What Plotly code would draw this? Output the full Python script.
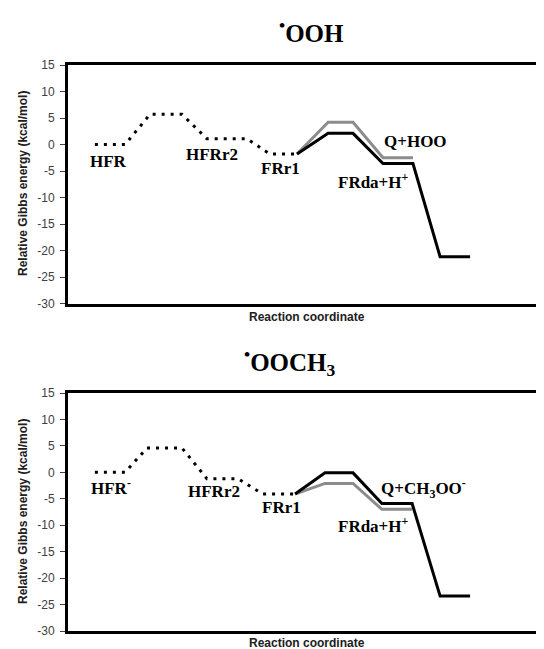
import plotly.graph_objects as go

# ---------------- data ----------------
# top panel (•OOH)
top_dot_x = [0.96, 2.04, 2.93, 4.07, 4.96, 6.39, 7.21, 8.18]
top_dot_y = [0, 0, 5.7, 5.7, 1.1, 1.1, -1.8, -1.8]
top_black_x = [8.18, 9.29, 10.18, 11.25, 12.32, 13.29, 14.36]
top_black_y = [-1.8, 2.1, 2.1, -3.6, -3.6, -21.2, -21.2]
top_gray_x = [8.18, 9.29, 10.18, 11.25, 12.32]
top_gray_y = [-1.8, 4.2, 4.2, -2.5, -2.5]

top_labels = ["HFR", "HFRr2", "FRr1", "FRda+H<sup>+</sup>", "Q+HOO"]
top_label_x = [1.43, 5.16, 7.6, 10.9, 12.4]
top_label_y = [-3.3, -1.9, -4.5, -6.8, 0.5]

# bottom panel (•OOCH3)
bot_dot_x = [0.96, 2.04, 2.82, 4.07, 4.96, 6.07, 6.96, 8.11]
bot_dot_y = [0, 0, 4.6, 4.6, -1.2, -1.2, -4.1, -4.1]
bot_black_x = [8.11, 9.18, 10.18, 11.21, 12.29, 13.29, 14.36]
bot_black_y = [-4.1, -0.1, -0.1, -5.9, -5.9, -23.4, -23.4]
bot_gray_x = [8.11, 9.18, 10.18, 11.21, 12.29]
bot_gray_y = [-4.1, -2.1, -2.1, -7.0, -7.0]

bot_labels = ["HFR<sup>-</sup>", "HFRr2", "FRr1", "FRda+H<sup>+</sup>", "Q+CH<sub>3</sub>OO<sup>-</sup>"]
bot_label_x = [1.55, 5.2, 7.64, 10.9, 12.7]
bot_label_y = [-2.8, -3.7, -6.7, -9.9, -3.15]

titles = ["<sup>•</sup>OOH", "<sup>•</sup>OOCH<sub>3</sub>"]
y_title = "Relative Gibbs energy (kcal/mol)"
x_title = "Reaction coordinate"
y_ticks = [15, 10, 5, 0, -5, -10, -15, -20, -25, -30]

W, H = 544, 649
OFF = 8  # page body margin
GRAY = "#8c8c8c"
SERIF = "Liberation Serif, Times New Roman, serif"
SANS = "Liberation Sans, Arial, sans-serif"

fig = go.Figure()

panels = [
    ("x", "y", top_dot_x, top_dot_y, top_black_x, top_black_y, top_gray_x, top_gray_y,
     top_labels, top_label_x, top_label_y),
    ("x2", "y2", bot_dot_x, bot_dot_y, bot_black_x, bot_black_y, bot_gray_x, bot_gray_y,
     bot_labels, bot_label_x, bot_label_y),
]

for xa, ya, dx, dy, bx, by, gx, gy, labs, lx, ly in panels:
    fig.add_trace(go.Scatter(x=dx, y=dy, mode="lines", xaxis=xa, yaxis=ya,
                             line=dict(color="black", width=3, dash="3px,6px"),
                             showlegend=False, hoverinfo="skip"))
    fig.add_trace(go.Scatter(x=gx, y=gy, mode="lines", xaxis=xa, yaxis=ya,
                             line=dict(color=GRAY, width=3),
                             showlegend=False, hoverinfo="skip"))
    fig.add_trace(go.Scatter(x=bx, y=by, mode="lines", xaxis=xa, yaxis=ya,
                             line=dict(color="black", width=3),
                             showlegend=False, hoverinfo="skip"))
    for t, x, y in zip(labs, lx, ly):
        fig.add_annotation(x=x, y=y, xref=xa, yref=ya, text="<b>" + t + "</b>",
                           showarrow=False, xanchor="center", yanchor="middle",
                           font=dict(family=SERIF, size=17, color="black"))

def py(p):
    return 1 - (p - OFF) / H

def px(p):
    return (p - OFF) / W

x_dom = [px(68), 1.0]
top_dom = [py(303.5), py(65)]
bot_dom = [py(631), py(393)]

axis_common = dict(range=[0, 17 + OFF / 28], showticklabels=False, showgrid=False, zeroline=False,
                   showline=True, linecolor="black", linewidth=2.5, mirror=True,
                   ticks="", fixedrange=True, automargin=False)
yaxis_common = dict(range=[-30, 15], tickvals=y_ticks, ticktext=[str(v) for v in y_ticks],
                    showgrid=False, zeroline=False, showline=True, linecolor="black",
                    linewidth=3, ticks="outside", ticklen=5, tickwidth=1, tickcolor="#404040",
                    tickfont=dict(family=SANS, size=12, color="#404040"),
                    ticklabelstandoff=3, fixedrange=True, automargin=False)

fig.update_layout(
    width=W, height=H,
    margin=dict(l=0, r=0, t=0, b=0, autoexpand=False),
    paper_bgcolor="white", plot_bgcolor="white",
    xaxis=dict(domain=x_dom, anchor="y", **axis_common),
    yaxis=dict(domain=top_dom, anchor="x", **yaxis_common),
    xaxis2=dict(domain=x_dom, anchor="y2", **axis_common),
    yaxis2=dict(domain=bot_dom, anchor="x2", **yaxis_common),
)

# panel titles
for t, xc, yc in zip(titles, [311, 290], [31, 362]):
    fig.add_annotation(x=px(xc), y=py(yc), xref="paper", yref="paper", text="<b>" + t + "</b>",
                       showarrow=False, xanchor="center", yanchor="middle",
                       font=dict(family=SERIF, size=25, color="black"))

# axis titles
for yc in [317, 643]:
    fig.add_annotation(x=px(307), y=py(yc), xref="paper", yref="paper", text="<b>" + x_title + "</b>",
                       showarrow=False, xanchor="center", yanchor="middle",
                       font=dict(family=SANS, size=12, color="#202020"))
for yc in [184, 512]:
    fig.add_annotation(x=px(23), y=py(yc), xref="paper", yref="paper", text="<b>" + y_title + "</b>",
                       showarrow=False, xanchor="center", yanchor="middle", textangle=-90,
                       font=dict(family=SANS, size=12, color="#202020"))

fig.write_html("out.html")
